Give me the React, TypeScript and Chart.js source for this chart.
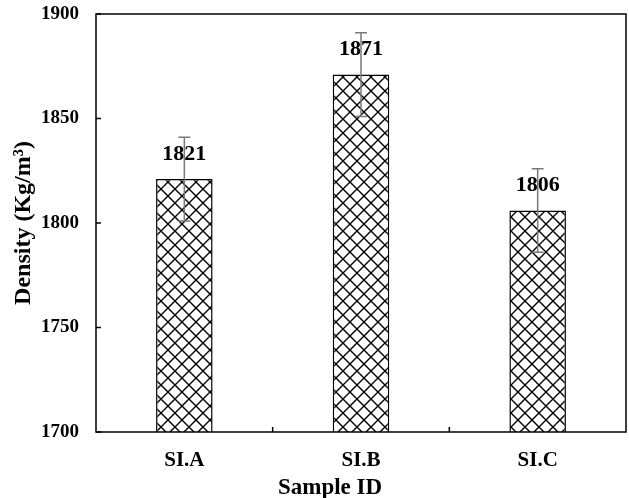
import React, { useEffect, useRef } from "react";
import { Chart, registerables } from "chart.js";

Chart.register(...registerables);

const categories = ["SI.A", "SI.B", "SI.C"];
const densities = [1821, 1871, 1806];
const errors = [20, 20, 20];
const yTicks = [1700, 1750, 1800, 1850, 1900];

const FONT = "'Liberation Serif', 'Times New Roman', serif";

function makePattern(): CanvasPattern | string {
  const size = 14;
  const c = document.createElement("canvas");
  c.width = size;
  c.height = size;
  const ctx = c.getContext("2d");
  if (!ctx) return "#fff";
  ctx.fillStyle = "#ffffff";
  ctx.fillRect(0, 0, size, size);
  ctx.strokeStyle = "#000000";
  ctx.lineWidth = 1.4;
  ctx.beginPath();
  ctx.moveTo(-1, -1);
  ctx.lineTo(size + 1, size + 1);
  ctx.moveTo(size + 1, -1);
  ctx.lineTo(-1, size + 1);
  ctx.stroke();
  const p = ctx.createPattern(c, "repeat");
  return p || "#fff";
}

const decorPlugin = {
  id: "decor",
  afterDatasetsDraw(chart: any) {
    const { ctx, chartArea, scales } = chart;
    const y = scales.y;
    const meta = chart.getDatasetMeta(0);
    ctx.save();
    // data labels
    ctx.fillStyle = "#000";
    ctx.font = `bold 22px ${FONT}`;
    ctx.textAlign = "center";
    ctx.textBaseline = "middle";
    meta.data.forEach((bar: any, i: number) => {
      ctx.fillText(String(densities[i]), bar.x, bar.y - 25);
    });
    // error bars
    ctx.strokeStyle = "#7a7a7a";
    ctx.lineWidth = 1.5;
    meta.data.forEach((bar: any, i: number) => {
      const top = y.getPixelForValue(densities[i] + errors[i]);
      const bot = y.getPixelForValue(densities[i] - errors[i]);
      ctx.beginPath();
      ctx.moveTo(bar.x, top);
      ctx.lineTo(bar.x, bot);
      ctx.moveTo(bar.x - 6, top);
      ctx.lineTo(bar.x + 6, top);
      ctx.moveTo(bar.x - 6, bot);
      ctx.lineTo(bar.x + 6, bot);
      ctx.stroke();
    });
    // frame
    ctx.strokeStyle = "#000";
    ctx.lineWidth = 1.5;
    ctx.strokeRect(chartArea.left, chartArea.top, chartArea.right - chartArea.left, chartArea.bottom - chartArea.top);
    // y inner ticks
    ctx.beginPath();
    yTicks.forEach((v) => {
      const py = y.getPixelForValue(v);
      ctx.moveTo(chartArea.left, py);
      ctx.lineTo(chartArea.left + 5, py);
    });
    // x inner ticks at category boundaries
    const n = categories.length;
    const w = (chartArea.right - chartArea.left) / n;
    for (let i = 1; i < n; i++) {
      const px = chartArea.left + w * i;
      ctx.moveTo(px, chartArea.bottom);
      ctx.lineTo(px, chartArea.bottom - 5);
    }
    ctx.stroke();
    // x title
    ctx.fillStyle = "#000";
    ctx.font = `bold 23px ${FONT}`;
    ctx.textAlign = "center";
    ctx.textBaseline = "alphabetic";
    ctx.fillText("Sample ID", 330, 494);
    ctx.restore();
  },
};

export default function App() {
  const ref = useRef<HTMLCanvasElement | null>(null);
  useEffect(() => {
    document.body.style.margin = "0";
    if (!ref.current) return;
    const chart = new Chart(ref.current, {
      type: "bar",
      data: {
        labels: categories,
        datasets: [
          {
            data: densities,
            backgroundColor: makePattern() as any,
            borderColor: "#000",
            borderWidth: 1.5,
            categoryPercentage: 1,
            barPercentage: 0.32,
          },
        ],
      },
      options: {
        animation: false,
        responsive: false,
        maintainAspectRatio: false,
        layout: { padding: { top: 14, right: 3, left: 0, bottom: 0 } },
        plugins: { legend: { display: false }, tooltip: { enabled: false } },
        scales: {
          x: {
            grid: { display: false, drawTicks: false },
            border: { display: false },
            ticks: {
              color: "#000",
              padding: 16,
              font: { family: FONT, size: 21, weight: "bold" },
            },
            afterFit(scale: any) {
              scale.height = 66;
              scale.paddingLeft = 0;
              scale.paddingRight = 0;
            },
          },
          y: {
            min: 1700,
            max: 1900,
            grid: { display: false, drawTicks: false },
            border: { display: false },
            afterBuildTicks(scale: any) {
              scale.ticks = yTicks.map((v) => ({ value: v }));
            },
            ticks: {
              color: "#000",
              padding: 17,
              font: { family: FONT, size: 19, weight: "bold" },
              callback: (v: any) => String(v),
            },
            title: {
              display: true,
              text: "Density (Kg/m³)",
              color: "#000",
              font: { family: FONT, size: 24, weight: "bold" },
              padding: { top: 9, bottom: 0 },
            },
            afterFit(scale: any) {
              scale.width = 96;
              scale.paddingTop = 0;
              scale.paddingBottom = 0;
            },
          },
        },
      },
      plugins: [decorPlugin],
    });
    return () => chart.destroy();
  }, []);
  return (
    <div style={{ width: 629, height: 498, position: "relative" }}>
      <canvas ref={ref} width={629} height={498} style={{ display: "block" }} />
    </div>
  );
}
